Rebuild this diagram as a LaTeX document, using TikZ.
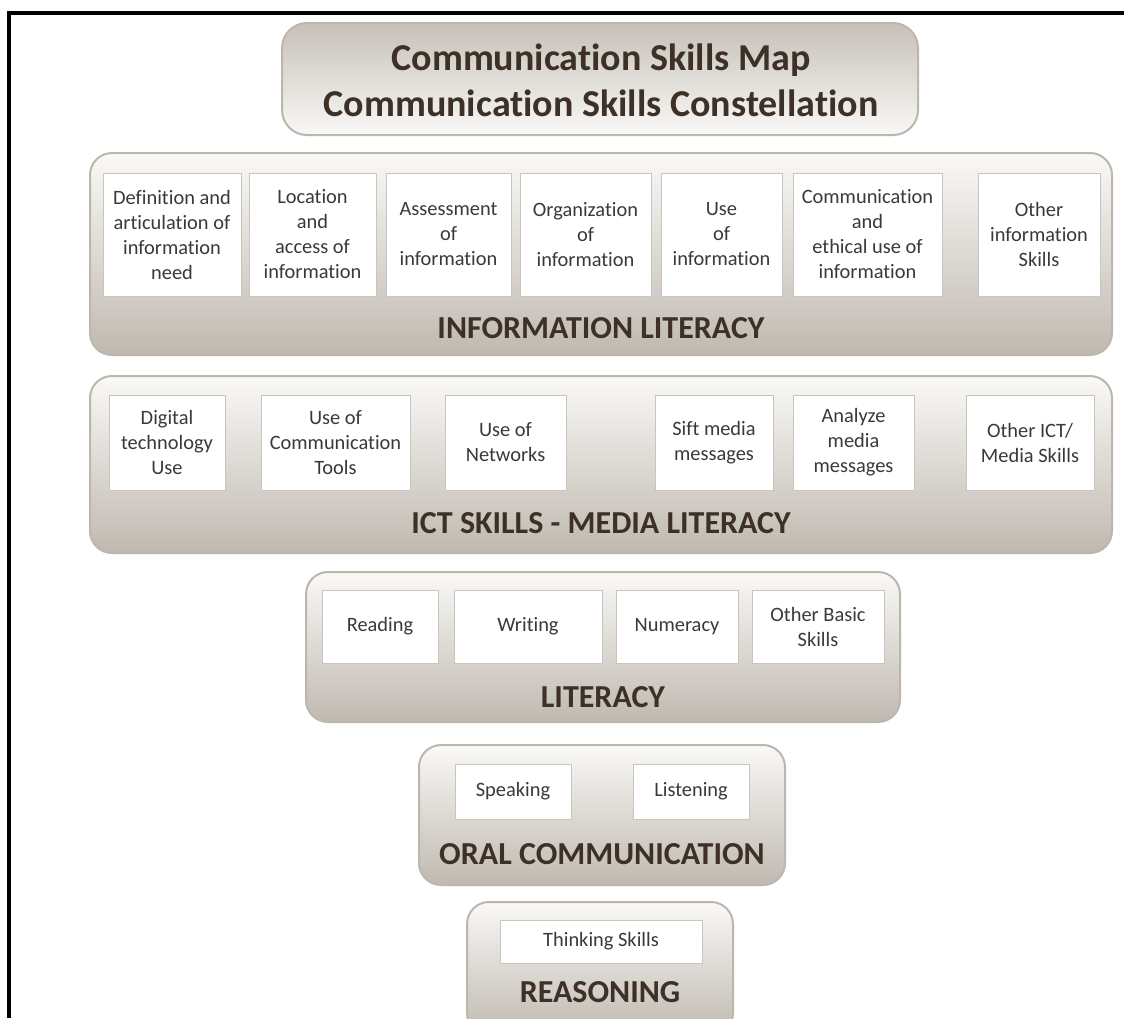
\documentclass[tikz,border=0pt]{standalone}
\usepackage{fontspec}
\setmainfont{Carlito}[Ligatures=NoCommon]
\usepackage{tikz}
\usepackage{xcolor}
\definecolor{bandtop}{HTML}{FAF9F7}
\definecolor{bandbot}{HTML}{BFB9B0}
\definecolor{bandline}{HTML}{BCB6AD}
\definecolor{boxline}{HTML}{C9C5BE}
\definecolor{headtxt}{HTML}{3D3027}
\definecolor{boxtxt}{HTML}{3B3838}
\tikzset{
  band/.style={draw=bandline, line width=2pt, rounded corners=22pt,
    top color=bandtop, bottom color=bandbot, inner sep=0pt},
  titlebox/.style={band, top color=bandbot!90, bottom color=bandtop, rounded corners=25pt},
  skillbox/.style={draw=boxline, line width=1pt, fill=white, align=center,
    inner sep=0pt, text=boxtxt, font=\fontsize{20.4}{25}\selectfont},
  bandlabel/.style={text=headtxt, font=\fontsize{32}{38}\selectfont\bfseries},
}

\begin{document}
\begin{tikzpicture}[x=1pt, y=-1pt]
      \clip (0, 0) rectangle (1124, 1018);
      \fill[white] (0, 0) rectangle (1124, 1018);
      \draw[line width=4pt] (8.5, 1018) -- (8.5, 13) -- (1124, 13);
      % title
      \node[titlebox, minimum width=636pt, minimum height=112pt] (title) at (600, 79) {};
      \node[text=headtxt, align=center, font=\fontsize{38}{46}\selectfont\bfseries] (titletext) at (601, 80)
        {Communication Skills Map\\Communication Skills Constellation};
      % information literacy
      \node[band, minimum width=1022pt, minimum height=202pt] (info) at (601, 254) {};
      \node[skillbox, minimum width=138pt, minimum height=123pt] (define) at (172, 234.5)
        {Definition and\\articulation of\\information\\need};
      \node[skillbox, minimum width=127pt, minimum height=123pt] (locate) at (312.5, 234.5)
        {Location\\and\\access of\\information};
      \node[skillbox, minimum width=125pt, minimum height=123pt] (assess) at (448.5, 234.5)
        {Assessment\\of\\information};
      \node[skillbox, minimum width=131pt, minimum height=123pt] (organize) at (585.5, 234.5)
        {Organization\\of\\information};
      \node[skillbox, minimum width=121pt, minimum height=123pt] (useinfo) at (721.5, 234.5)
        {Use\\of\\information};
      \node[skillbox, minimum width=149pt, minimum height=123pt] (ethical) at (867.5, 234.5)
        {Communication\\and\\ethical use of\\information};
      \node[skillbox, minimum width=122pt, minimum height=123pt] (otherinfo) at (1039, 234.5)
        {Other\\information\\Skills};
      \node[bandlabel] (infolabel) at (601, 328) {INFORMATION LITERACY};
      % ict skills - media literacy
      \node[band, minimum width=1022pt, minimum height=177pt] (ict) at (601, 464.5) {};
      \node[skillbox, minimum width=116pt, minimum height=95pt] (digital) at (167, 442.5)
        {Digital\\technology\\Use};
      \node[skillbox, minimum width=149pt, minimum height=95pt] (tools) at (335.5, 442.5)
        {Use of\\Communication\\Tools};
      \node[skillbox, minimum width=121pt, minimum height=95pt] (networks) at (505.5, 442.5)
        {Use of\\Networks};
      \node[skillbox, minimum width=118pt, minimum height=95pt] (sift) at (714, 442.5)
        {Sift media\\messages};
      \node[skillbox, minimum width=121pt, minimum height=95pt] (analyze) at (853.5, 442.5)
        {Analyze\\media\\messages};
      \node[skillbox, minimum width=128pt, minimum height=95pt] (otherict) at (1030, 442.5)
        {Other ICT/\\Media Skills};
      \node[bandlabel] (ictlabel) at (601, 523) {ICT SKILLS - MEDIA LITERACY};
      % literacy
      \node[band, minimum width=594pt, minimum height=150pt] (lit) at (603, 647) {};
      \node[skillbox, minimum width=116pt, minimum height=73pt] (reading) at (380, 626.5) {Reading};
      \node[skillbox, minimum width=148pt, minimum height=73pt] (writing) at (528, 626.5) {Writing};
      \node[skillbox, minimum width=122pt, minimum height=73pt] (numeracy) at (677, 626.5) {Numeracy};
      \node[skillbox, minimum width=132pt, minimum height=73pt] (otherbasic) at (818, 626.5)
        {Other Basic\\Skills};
      \node[bandlabel] (litlabel) at (603, 697) {LITERACY};
      % oral communication
      \node[band, minimum width=366pt, minimum height=140pt] (oral) at (602, 815) {};
      \node[skillbox, minimum width=116pt, minimum height=55pt] (speaking) at (513, 791.5) {Speaking};
      \node[skillbox, minimum width=116pt, minimum height=55pt] (listening) at (691, 791.5) {Listening};
      \node[bandlabel] (orallabel) at (602, 854) {ORAL COMMUNICATION};
      % reasoning
      \node[band, minimum width=266pt, minimum height=133pt] (reason) at (600, 968.5) {};
      \node[skillbox, minimum width=202pt, minimum height=43pt] (thinking) at (601, 941.5) {Thinking Skills};
      \node[bandlabel] (reasonlabel) at (600, 992) {REASONING};
\end{tikzpicture}
\end{document}
